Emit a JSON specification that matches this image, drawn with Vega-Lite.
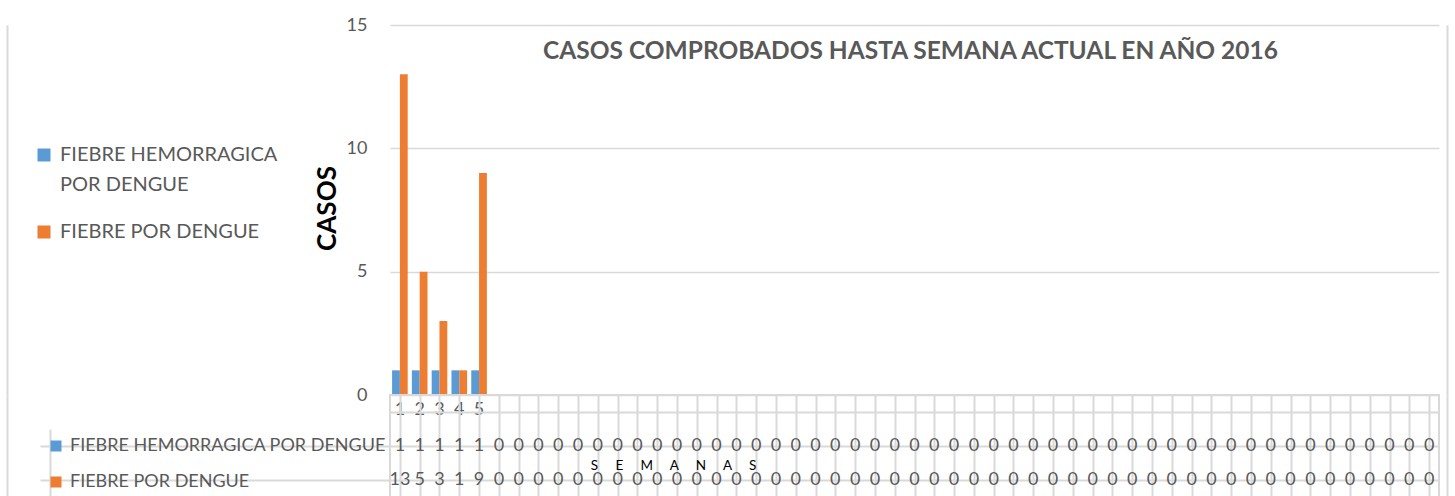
{
  "$schema": "https://vega.github.io/schema/vega-lite/v6.json",
  "padding": {"left": 6, "top": 16, "right": 6, "bottom": 0},
  "spacing": 0,
  "bounds": "flush",
  "background": "white",
  "config": {
    "font": "Lato",
    "view": {"stroke": null},
    "legend": {"symbolOpacity": 1, "symbolStrokeWidth": 0, "padding": 0}
  },
  "data": {"values": [
    {"semana": 1, "FIEBRE HEMORRAGICA POR DENGUE": 1, "FIEBRE POR DENGUE": 13},
    {"semana": 2, "FIEBRE HEMORRAGICA POR DENGUE": 1, "FIEBRE POR DENGUE": 5},
    {"semana": 3, "FIEBRE HEMORRAGICA POR DENGUE": 1, "FIEBRE POR DENGUE": 3},
    {"semana": 4, "FIEBRE HEMORRAGICA POR DENGUE": 1, "FIEBRE POR DENGUE": 1},
    {"semana": 5, "FIEBRE HEMORRAGICA POR DENGUE": 1, "FIEBRE POR DENGUE": 9},
    {"semana": 6, "FIEBRE HEMORRAGICA POR DENGUE": 0, "FIEBRE POR DENGUE": 0},
    {"semana": 7, "FIEBRE HEMORRAGICA POR DENGUE": 0, "FIEBRE POR DENGUE": 0},
    {"semana": 8, "FIEBRE HEMORRAGICA POR DENGUE": 0, "FIEBRE POR DENGUE": 0},
    {"semana": 9, "FIEBRE HEMORRAGICA POR DENGUE": 0, "FIEBRE POR DENGUE": 0},
    {"semana": 10, "FIEBRE HEMORRAGICA POR DENGUE": 0, "FIEBRE POR DENGUE": 0},
    {"semana": 11, "FIEBRE HEMORRAGICA POR DENGUE": 0, "FIEBRE POR DENGUE": 0},
    {"semana": 12, "FIEBRE HEMORRAGICA POR DENGUE": 0, "FIEBRE POR DENGUE": 0},
    {"semana": 13, "FIEBRE HEMORRAGICA POR DENGUE": 0, "FIEBRE POR DENGUE": 0},
    {"semana": 14, "FIEBRE HEMORRAGICA POR DENGUE": 0, "FIEBRE POR DENGUE": 0},
    {"semana": 15, "FIEBRE HEMORRAGICA POR DENGUE": 0, "FIEBRE POR DENGUE": 0},
    {"semana": 16, "FIEBRE HEMORRAGICA POR DENGUE": 0, "FIEBRE POR DENGUE": 0},
    {"semana": 17, "FIEBRE HEMORRAGICA POR DENGUE": 0, "FIEBRE POR DENGUE": 0},
    {"semana": 18, "FIEBRE HEMORRAGICA POR DENGUE": 0, "FIEBRE POR DENGUE": 0},
    {"semana": 19, "FIEBRE HEMORRAGICA POR DENGUE": 0, "FIEBRE POR DENGUE": 0},
    {"semana": 20, "FIEBRE HEMORRAGICA POR DENGUE": 0, "FIEBRE POR DENGUE": 0},
    {"semana": 21, "FIEBRE HEMORRAGICA POR DENGUE": 0, "FIEBRE POR DENGUE": 0},
    {"semana": 22, "FIEBRE HEMORRAGICA POR DENGUE": 0, "FIEBRE POR DENGUE": 0},
    {"semana": 23, "FIEBRE HEMORRAGICA POR DENGUE": 0, "FIEBRE POR DENGUE": 0},
    {"semana": 24, "FIEBRE HEMORRAGICA POR DENGUE": 0, "FIEBRE POR DENGUE": 0},
    {"semana": 25, "FIEBRE HEMORRAGICA POR DENGUE": 0, "FIEBRE POR DENGUE": 0},
    {"semana": 26, "FIEBRE HEMORRAGICA POR DENGUE": 0, "FIEBRE POR DENGUE": 0},
    {"semana": 27, "FIEBRE HEMORRAGICA POR DENGUE": 0, "FIEBRE POR DENGUE": 0},
    {"semana": 28, "FIEBRE HEMORRAGICA POR DENGUE": 0, "FIEBRE POR DENGUE": 0},
    {"semana": 29, "FIEBRE HEMORRAGICA POR DENGUE": 0, "FIEBRE POR DENGUE": 0},
    {"semana": 30, "FIEBRE HEMORRAGICA POR DENGUE": 0, "FIEBRE POR DENGUE": 0},
    {"semana": 31, "FIEBRE HEMORRAGICA POR DENGUE": 0, "FIEBRE POR DENGUE": 0},
    {"semana": 32, "FIEBRE HEMORRAGICA POR DENGUE": 0, "FIEBRE POR DENGUE": 0},
    {"semana": 33, "FIEBRE HEMORRAGICA POR DENGUE": 0, "FIEBRE POR DENGUE": 0},
    {"semana": 34, "FIEBRE HEMORRAGICA POR DENGUE": 0, "FIEBRE POR DENGUE": 0},
    {"semana": 35, "FIEBRE HEMORRAGICA POR DENGUE": 0, "FIEBRE POR DENGUE": 0},
    {"semana": 36, "FIEBRE HEMORRAGICA POR DENGUE": 0, "FIEBRE POR DENGUE": 0},
    {"semana": 37, "FIEBRE HEMORRAGICA POR DENGUE": 0, "FIEBRE POR DENGUE": 0},
    {"semana": 38, "FIEBRE HEMORRAGICA POR DENGUE": 0, "FIEBRE POR DENGUE": 0},
    {"semana": 39, "FIEBRE HEMORRAGICA POR DENGUE": 0, "FIEBRE POR DENGUE": 0},
    {"semana": 40, "FIEBRE HEMORRAGICA POR DENGUE": 0, "FIEBRE POR DENGUE": 0},
    {"semana": 41, "FIEBRE HEMORRAGICA POR DENGUE": 0, "FIEBRE POR DENGUE": 0},
    {"semana": 42, "FIEBRE HEMORRAGICA POR DENGUE": 0, "FIEBRE POR DENGUE": 0},
    {"semana": 43, "FIEBRE HEMORRAGICA POR DENGUE": 0, "FIEBRE POR DENGUE": 0},
    {"semana": 44, "FIEBRE HEMORRAGICA POR DENGUE": 0, "FIEBRE POR DENGUE": 0},
    {"semana": 45, "FIEBRE HEMORRAGICA POR DENGUE": 0, "FIEBRE POR DENGUE": 0},
    {"semana": 46, "FIEBRE HEMORRAGICA POR DENGUE": 0, "FIEBRE POR DENGUE": 0},
    {"semana": 47, "FIEBRE HEMORRAGICA POR DENGUE": 0, "FIEBRE POR DENGUE": 0},
    {"semana": 48, "FIEBRE HEMORRAGICA POR DENGUE": 0, "FIEBRE POR DENGUE": 0},
    {"semana": 49, "FIEBRE HEMORRAGICA POR DENGUE": 0, "FIEBRE POR DENGUE": 0},
    {"semana": 50, "FIEBRE HEMORRAGICA POR DENGUE": 0, "FIEBRE POR DENGUE": 0},
    {"semana": 51, "FIEBRE HEMORRAGICA POR DENGUE": 0, "FIEBRE POR DENGUE": 0},
    {"semana": 52, "FIEBRE HEMORRAGICA POR DENGUE": 0, "FIEBRE POR DENGUE": 0},
    {"semana": 53, "FIEBRE HEMORRAGICA POR DENGUE": 0, "FIEBRE POR DENGUE": 0}
  ]},
  "resolve": {
    "scale": {"x": "independent", "y": "independent", "color": "independent"},
    "legend": {"color": "independent"}
  },
  "vconcat": [
    {
      "width": 1049,
      "height": 370,
      "title": {
        "text": "CASOS COMPROBADOS HASTA SEMANA ACTUAL EN AÑO 2016",
        "font": "Lato", "fontSize": 24.5, "fontWeight": "bold", "color": "#595959",
        "anchor": "middle", "offset": -32, "baseline": "alphabetic", "dy": 35, "dx": -4
      },
      "transform": [{"fold": ["FIEBRE HEMORRAGICA POR DENGUE", "FIEBRE POR DENGUE"], "as": ["serie", "casos"]}],
      "resolve": {"axis": {"y": "independent"}},
      "layer": [
        {
          "mark": {"type": "bar"},
          "encoding": {
            "x": {
              "field": "semana", "type": "ordinal",
              "scale": {"paddingInner": 0.21, "paddingOuter": 0.105},
              "axis": {
                "title": null, "domain": false, "ticks": false, "grid": false,
                "labelAngle": 0, "labelFont": "Lato", "labelFontSize": 18, "labelColor": "#595959",
                "labelPadding": 5,
                "labelExpr": "datum.value <= 5 ? datum.label : ''"
              }
            },
            "xOffset": {"field": "serie", "type": "nominal", "sort": ["FIEBRE HEMORRAGICA POR DENGUE", "FIEBRE POR DENGUE"]},
            "y": {
              "field": "casos", "type": "quantitative",
              "scale": {"domain": [0, 15], "nice": false},
              "axis": {
                "values": [0, 5, 10, 15],
                "title": "CASOS", "titleFont": "Lato", "titleFontSize": 26, "titleFontWeight": "bold", "titleColor": "#000000",
                "titleAngle": 270, "titleX": -63, "titleY": 183, "titleAlign": "center", "titleBaseline": "middle",
                "domain": false, "ticks": false,
                "grid": true, "gridColor": "#d9d9d9", "gridWidth": 1.5,
                "labelFont": "Lato", "labelFontSize": 18, "labelColor": "#595959", "labelPadding": 23
              }
            },
            "color": {
              "field": "serie", "type": "nominal",
              "scale": {"domain": ["FIEBRE HEMORRAGICA POR DENGUE", "FIEBRE POR DENGUE"], "range": ["#5B9BD5", "#ED7D31"]},
              "legend": {
                "orient": "none", "legendX": -356, "legendY": 120, "title": null,
                "symbolType": "square", "symbolSize": 169,
                "labelFont": "Lato", "labelFontSize": 20, "labelColor": "#595959", "labelLimit": 400, "labelOffset": 6,
                "rowPadding": 27,
                "labelExpr": "datum.label == 'FIEBRE HEMORRAGICA POR DENGUE' ? ['FIEBRE HEMORRAGICA', 'POR DENGUE'] : datum.label",
                "encode": {"labels": {"update": {"lineHeight": {"value": 30}}}}
              }
            }
          }
        },
        {
          "mark": {"type": "tick", "opacity": 0},
          "encoding": {
            "y": {
              "field": "casos", "type": "quantitative",
              "axis": {"orient": "left", "offset": 383, "labels": false, "ticks": false, "grid": false, "title": null,
                       "domain": true, "domainColor": "#d9d9d9", "domainWidth": 2}
            }
          }
        },
        {
          "mark": {"type": "tick", "opacity": 0},
          "encoding": {
            "y": {
              "field": "casos", "type": "quantitative",
              "axis": {"orient": "right", "offset": 8, "labels": false, "ticks": false, "grid": false, "title": null,
                       "domain": true, "domainColor": "#d9d9d9", "domainWidth": 2}
            }
          }
        }
      ]
    },
    {
      "width": 1049,
      "height": 102,
      "view": {"stroke": "#d9d9d9", "strokeWidth": 2},
      "transform": [{"fold": ["FIEBRE HEMORRAGICA POR DENGUE", "FIEBRE POR DENGUE"], "as": ["serie", "casos"]}],
      "resolve": {"axis": {"x": "independent", "y": "independent"}},
      "layer": [
        {
          "mark": {"type": "text", "font": "Lato", "fontSize": 18, "color": "#595959"},
          "encoding": {
            "x": {
              "field": "semana", "type": "ordinal",
              "scale": {"paddingInner": 0, "paddingOuter": 0},
              "axis": {
                "orient": "top", "labels": false, "ticks": false, "domain": false,
                "grid": true, "bandPosition": 0, "gridColor": "#d9d9d9", "gridWidth": 2,
                "title": "S\u00a0\u00a0\u00a0\u00a0\u00a0E\u00a0\u00a0\u00a0\u00a0\u00a0M\u00a0\u00a0\u00a0\u00a0\u00a0A\u00a0\u00a0\u00a0\u00a0\u00a0N\u00a0\u00a0\u00a0\u00a0\u00a0A\u00a0\u00a0\u00a0\u00a0\u00a0S",
                "titleFont": "Lato", "titleFontSize": 13.5, "titleFontWeight": "normal", "titleColor": "#000000",
                "titleX": 283, "titleY": 70, "titleAlign": "center", "titleBaseline": "middle"
              }
            },
            "y": {
              "field": "serie", "type": "nominal",
              "scale": {"domain": ["Semanas", "FIEBRE HEMORRAGICA POR DENGUE", "FIEBRE POR DENGUE"], "paddingInner": 0, "paddingOuter": 0},
              "axis": {
                "title": null, "labels": false, "domain": false,
                "ticks": true, "tickSize": 350, "bandPosition": 0, "tickWidth": 2,
                "tickColor": {"condition": {"test": "datum.value === 'Semanas'", "value": "transparent"}, "value": "#d9d9d9"},
                "grid": true, "gridColor": "#d9d9d9", "gridWidth": 2
              }
            },
            "text": {"field": "casos", "type": "quantitative"}
          }
        },
        {
          "mark": {"type": "square", "opacity": 0},
          "encoding": {
            "x": {
              "field": "semana", "type": "ordinal",
              "axis": {
                "orient": "bottom", "values": [1], "bandPosition": 0, "tickOffset": -350,
                "tickSize": -68, "tickColor": "#d9d9d9", "tickWidth": 2,
                "labels": false, "domain": false, "grid": false, "title": null
              }
            },
            "y": {
              "field": "serie", "type": "nominal",
              "axis": {"orient": "left", "offset": 383, "labels": false, "ticks": false, "grid": false, "title": null,
                       "domain": true, "domainColor": "#d9d9d9", "domainWidth": 2}
            },
            "color": {
              "field": "serie", "type": "nominal",
              "scale": {"domain": ["FIEBRE HEMORRAGICA POR DENGUE", "FIEBRE POR DENGUE"], "range": ["#5B9BD5", "#ED7D31"]},
              "legend": {
                "orient": "none", "legendX": -343, "legendY": 42, "title": null,
                "symbolType": "square", "symbolSize": 121,
                "labelFont": "Lato", "labelFontSize": 18, "labelColor": "#595959", "labelLimit": 400, "labelOffset": 5,
                "rowPadding": 18
              }
            }
          }
        },
        {
          "mark": {"type": "square", "opacity": 0},
          "encoding": {
            "x": {"field": "semana", "type": "ordinal", "axis": null},
            "y": {
              "field": "serie", "type": "nominal",
              "axis": {"orient": "right", "offset": 8, "labels": false, "ticks": false, "grid": false, "title": null,
                       "domain": true, "domainColor": "#d9d9d9", "domainWidth": 2}
            }
          }
        }
      ]
    }
  ]
}
